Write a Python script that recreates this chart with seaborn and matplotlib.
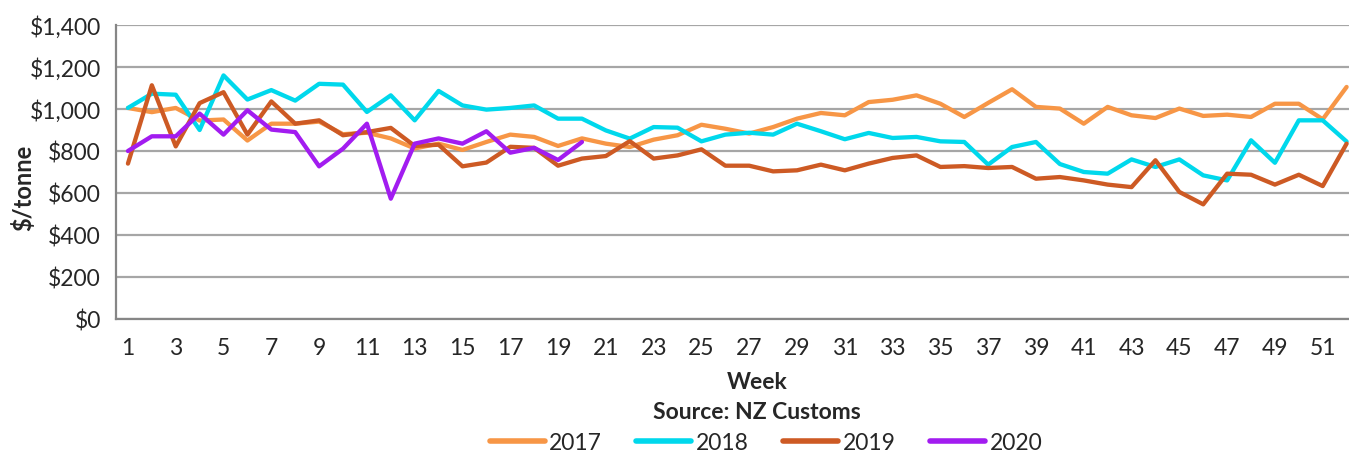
import numpy as np
import pandas as pd
import matplotlib
matplotlib.use("Agg")
import matplotlib.pyplot as plt
from matplotlib.ticker import FixedLocator
import seaborn as sns

# weekly export prices, $/tonne
weeks = list(range(1, 53))
years = ['2017', '2018', '2019', '2020']

price_2017 = [1005, 985, 1005, 945, 950, 850, 930, 930, 940, 880,
              887, 860, 812, 835, 805, 843, 878, 867, 824, 860,
              835, 819, 854, 875, 925, 906, 883, 914, 954, 981,
              970, 1033, 1044, 1065, 1025, 962, 1029, 1094, 1010, 1002,
              930, 1010, 970, 957, 1002, 967, 973, 962, 1025, 1025,
              951, 1105]
price_2018 = [1005, 1073, 1068, 900, 1160, 1045, 1090, 1040, 1120, 1116,
              986, 1065, 946, 1086, 1017, 997, 1005, 1017, 954, 954,
              898, 859, 914, 911, 846, 878, 887, 878, 930, 894,
              856, 886, 862, 867, 846, 843, 735, 819, 843, 738,
              700, 692, 760, 724, 760, 684, 660, 851, 744, 946,
              946, 845]
price_2019 = [740, 1113, 822, 1028, 1080, 878, 1036, 930, 946, 875,
              890, 910, 824, 830, 727, 745, 820, 815, 730, 764,
              776, 847, 764, 779, 808, 730, 730, 703, 708, 735,
              708, 740, 767, 779, 724, 728, 719, 724, 668, 676,
              660, 640, 628, 756, 605, 546, 692, 687, 640, 687,
              633, 835]
price_2020 = [800, 870, 870, 978, 878, 994, 902, 890, 727, 811,
              930, 573, 835, 860, 835, 894, 792, 815, 757, 843]

colors = ['#F79646', '#00D8EC', '#CD5A24', '#A21CF0']
y_ticks = [0, 200, 400, 600, 800, 1000, 1200, 1400]

frames = []
for yr, vals in zip(years, [price_2017, price_2018, price_2019, price_2020]):
    frames.append(pd.DataFrame({'week': weeks[:len(vals)], 'price': vals, 'year': yr}))
df = pd.concat(frames, ignore_index=True)

sns.set_style('white')
plt.rcParams['font.family'] = ['Lato', 'DejaVu Sans']

fig = plt.figure(figsize=(13.49, 4.56), dpi=100)
ax = fig.add_axes([116 / 1349, 1 - 320 / 456, 1 - 116 / 1349, 294 / 456])

sns.lineplot(data=df, x='week', y='price', hue='year', hue_order=years,
             palette=colors, linewidth=3.1, ax=ax, legend=True, zorder=3)

ax.set_xlim(0.5, 52.1)
ax.set_ylim(0, 1400)

# y axis
ax.set_yticks(y_ticks)
ax.set_yticklabels(['${:,}'.format(v) for v in y_ticks])
ax.yaxis.grid(True, color='#A6A6A6', linewidth=1.6)
ax.set_axisbelow(True)

# x axis: labels on odd weeks, tick marks between categories
ax.set_xticks(weeks[::2])
ax.set_xticklabels([str(w) for w in weeks[::2]])
ax.xaxis.set_minor_locator(FixedLocator(np.arange(0.5, 53, 1)))
ax.tick_params(axis='x', which='major', length=0, pad=13, labelsize=16.5)
ax.tick_params(axis='x', which='minor', length=6, width=1.2, color='#868686', direction='out')
ax.tick_params(axis='y', which='major', length=8, width=1.2, color='#868686',
               direction='out', labelsize=16.5, pad=3)

for side in ['top', 'right']:
    ax.spines[side].set_visible(False)
ax.spines['left'].set_color('#868686')
ax.spines['left'].set_linewidth(1.6)
ax.spines['bottom'].set_color('#868686')
ax.spines['bottom'].set_linewidth(1.6)

ax.set_xlabel('')
ax.set_ylabel('')
fig.text(23 / 1349, 1 - 188 / 456, '$/tonne', rotation=90, fontsize=17,
         fontweight='bold', ha='center', va='center')
fig.text(757 / 1349, 1 - 383 / 456, 'Week', fontsize=16.5, fontweight='bold',
         ha='center', va='center')
fig.text(757 / 1349, 1 - 413 / 456, 'Source: NZ Customs', fontsize=16.5,
         fontweight='bold', ha='center', va='center')

handles, labels = ax.get_legend_handles_labels()
ax.legend_.remove()
for h in handles:
    h.set_linewidth(4)
fig.legend(handles, labels, loc='center', bbox_to_anchor=(766 / 1349, 1 - 444 / 456),
           ncol=4, frameon=False, fontsize=16.5, handlelength=2.4,
           columnspacing=1.5, handletextpad=0.2, borderaxespad=0)

fig.savefig('out.png', dpi=100)
